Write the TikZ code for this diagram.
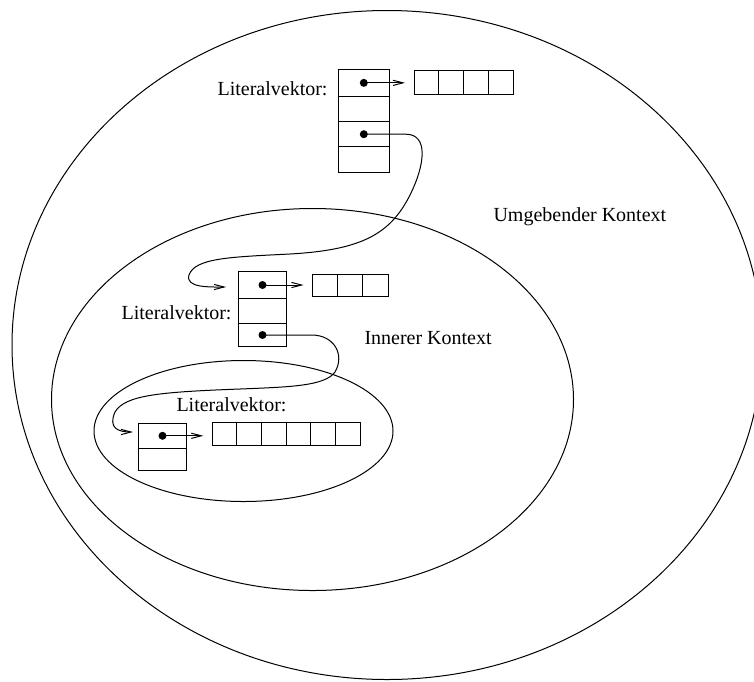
\documentclass[tikz,border=0pt]{standalone}
\usepackage{fontspec}
\setmainfont{Liberation Serif}
\usetikzlibrary{arrows.meta}
\begin{document}
\begin{tikzpicture}[x=0.5pt,y=-0.5pt,line width=0.5pt,
  cell/.style={draw,inner sep=0pt,outer sep=0pt},
  dot/.style={circle,fill,inner sep=0pt,minimum size=4pt},
  ptr/.style={-{Straight Barb[length=5pt,width=2.6pt]}},
  lbl/.style={inner sep=0pt,font=\fontsize{10}{12}\selectfont}]
\useasboundingbox (0,0) rectangle (754,681);

% contexts
\draw (387,345) ellipse [x radius=375, y radius=334.5];
\draw (312.5,399.5) ellipse [x radius=261, y radius=191];
\draw (243.5,431) ellipse [x radius=149.5, y radius=70.5];

% outer literal vector (four slots)
\begin{scope}[every node/.style={cell,minimum width=25.5pt}]
  \node[minimum height=13.85pt] (tA) at (363.8,82.85) {};
  \node[minimum height=12.5pt]  (tB) at (363.8,109.2) {};
  \node[minimum height=12.5pt]  (tC) at (363.8,134.2) {};
  \node[minimum height=12.8pt]  (tD) at (363.8,159.5) {};
\end{scope}
\foreach \i in {1,...,4}
  \node[cell,minimum width=12.41pt,minimum height=11.8pt] (ta\i) at ({414+24.83*(\i-0.5)},82.5) {};

% middle literal vector (three slots)
\begin{scope}[every node/.style={cell,minimum width=24pt}]
  \node[minimum height=13.4pt]  (mA) at (262.5,285) {};
  \node[minimum height=12.55pt] (mB) at (262.5,311) {};
  \node[minimum height=11.5pt]  (mC) at (262.5,335) {};
\end{scope}
\foreach \i in {1,...,3}
  \node[cell,minimum width=12.58pt,minimum height=11.15pt] (ma\i) at ({312.5+25.17*(\i-0.5)},285.2) {};

% inner literal vector (two slots)
\begin{scope}[every node/.style={cell,minimum width=24.2pt}]
  \node[minimum height=12.5pt] (bA) at (162.5,435.8) {};
  \node[minimum height=11.2pt] (bB) at (162.5,459.5) {};
\end{scope}
\foreach \i in {1,...,6}
  \node[cell,minimum width=12.31pt,minimum height=11.7pt] (ba\i) at ({212.3+24.62*(\i-0.5)},434) {};

% pointer dots
\node[dot] (tp1) at (tA.center) {};
\node[dot] (tp2) at (tC.center) {};
\node[dot] (mp1) at (mA.center) {};
\node[dot] (mp2) at (mC.center) {};
\node[dot] (bp1) at (bA.center) {};

% ends of the chain pointers
\coordinate (mIn) at (226,287);
\coordinate (bIn) at (133,432);

% pointers to the literal arrays
\draw[ptr,shorten >=4.5pt] (tp1.center) -- (tp1.center -| ta1.west);
\draw[ptr,shorten >=4.5pt] (mp1.center) -- (mp1.center -| ma1.west);
\draw[ptr,shorten >=4.5pt] (bp1.center) -- (bp1.center -| ba1.west);

% pointers to the enclosed contexts
\draw[ptr] (tp2.center) -- ++(42,0)
  .. controls +(23,0) and (425,165) .. (410,195)
  .. controls (390,235) and (360,250) .. (290,254)
  .. controls (230,257) and (195,258) .. (189,275)
  .. controls (185,288) and (210,287) .. (mIn);
\draw[ptr] (mp2.center) -- ++(49,0)
  .. controls +(23,0) and (345,355) .. (335,372)
  .. controls (325,386) and (290,387) .. (240,389)
  .. controls (160,392) and (125,395) .. (115,412)
  .. controls (108,428) and (118,432) .. (bIn);

% labels
\node[lbl,anchor=base east] (tl) at (328,95.5) {Literalvektor:};
\node[lbl,anchor=base east] (ml) at (232,319) {Literalvektor:};
\node[lbl,anchor=base west] (bl) at (176,411) {Literalvektor:};
\node[lbl,anchor=base west] (ik) at (364,344) {Innerer Kontext};
\node[lbl,anchor=base west] (uk) at (493,221) {Umgebender Kontext};
\end{tikzpicture}
\end{document}
